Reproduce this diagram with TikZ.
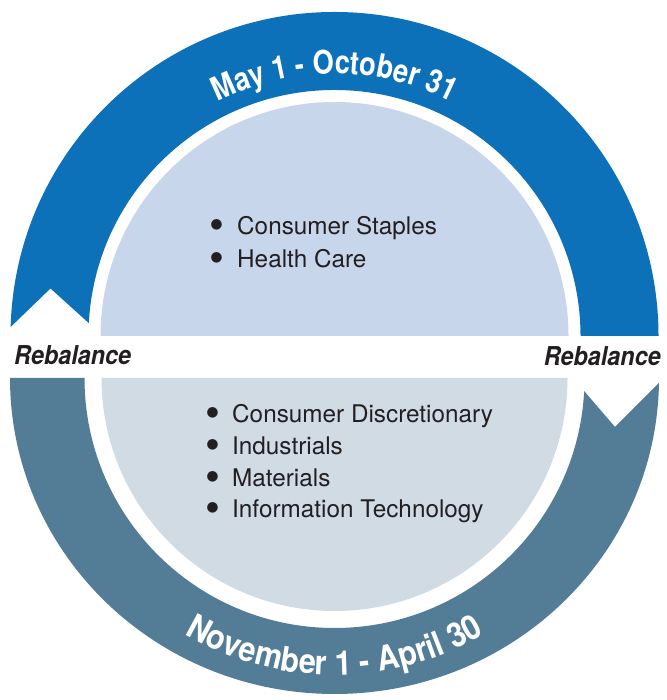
\documentclass[tikz,border=0pt]{standalone}
\usepackage{fontspec}
\setmainfont{TeX Gyre Heros}
\newfontfamily\condfont[FakeStretch=0.84]{TeX Gyre Heros}
\newfontfamily\condfontb[FakeStretch=0.9]{TeX Gyre Heros}
\usetikzlibrary{calc,decorations.text}
\definecolor{topblue}{RGB}{12,113,184}
\definecolor{toplight}{RGB}{200,214,236}
\definecolor{botdark}{RGB}{83,125,151}
\definecolor{botlight}{RGB}{208,219,228}
\definecolor{txt}{RGB}{35,31,32}
\newcommand{\bigbul}{\raisebox{-4.6pt}{\scalebox{1.75}{\textbullet}}}
\begin{document}
\begin{tikzpicture}[x=1pt,y=1pt,
  rebal/.style={font=\condfontb\bfseries\itshape\fontsize{26}{26}\selectfont,text=txt,inner sep=0pt},
  item/.style={font=\fontsize{24.3}{24.3}\selectfont,text=txt,inner sep=0pt,anchor=base west}]
\useasboundingbox (0,0) rectangle (666,700);
\coordinate (c1) at (334.5,364);
\coordinate (c2) at (334.5,322);
% top ring (May - October)
\fill[topblue] ($(c1)+(0:324)$) arc[start angle=0,end angle=178.4,radius=324]
  -- ($(c1)+(170.5:288)$) -- ($(c1)+(177:246)$)
  arc[start angle=177,end angle=0,radius=246] -- cycle;
% bottom ring (November - April)
\fill[botdark] ($(c2)+({324.5*cos(-0.9)},{316*sin(-0.9)})$)
  arc[start angle=-0.9,end angle=-180,x radius=324.5,y radius=316]
  -- ($(c2)+(180:250)$) arc[start angle=180,end angle=357,radius=250]
  -- ($(c2)+(-9.9:284.7)$) -- cycle;
% inner half disks
\fill[toplight] ($(c1)+(0:234)$) arc[start angle=0,end angle=180,radius=234] -- cycle;
\fill[botlight] ($(c2)+(180:233)$) arc[start angle=180,end angle=360,radius=233] -- cycle;
% curved labels
\path[decorate,decoration={text along path,text align=center,text color=white,
  text={|\condfont\bfseries\fontsize{32.5}{32.5}\selectfont|May 1 - October 31}}]
  ($(c1)+(150:262)$) arc[start angle=150,end angle=30,radius=262];
\path[decorate,decoration={text along path,text align=center,text color=white,
  text={|\condfontb\bfseries\fontsize{34}{34}\selectfont|November 1 - April 30}}]
  ($(c2)+(210:297)$) arc[start angle=210,end angle=330,radius=297];
% rebalance labels
\node[rebal,anchor=base west] (rl) at (14,335) {Rebalance};
\node[rebal,anchor=base east] (rr) at (661,334) {Rebalance};
% lists
\node[item] (s1) at (209,465) {\makebox[28pt][l]{\bigbul}Consumer Staples};
\node[item] (s2) at (209,432) {\makebox[28pt][l]{\bigbul}Health Care};
\node[item] (w1) at (205,277) {\makebox[27pt][l]{\bigbul}Consumer Discretionary};
\node[item] (w2) at (205,245) {\makebox[27pt][l]{\bigbul}Industrials};
\node[item] (w3) at (205,213) {\makebox[27pt][l]{\bigbul}Materials};
\node[item] (w4) at (205,182) {\makebox[27pt][l]{\bigbul}Information Technology};
\end{tikzpicture}
\end{document}
